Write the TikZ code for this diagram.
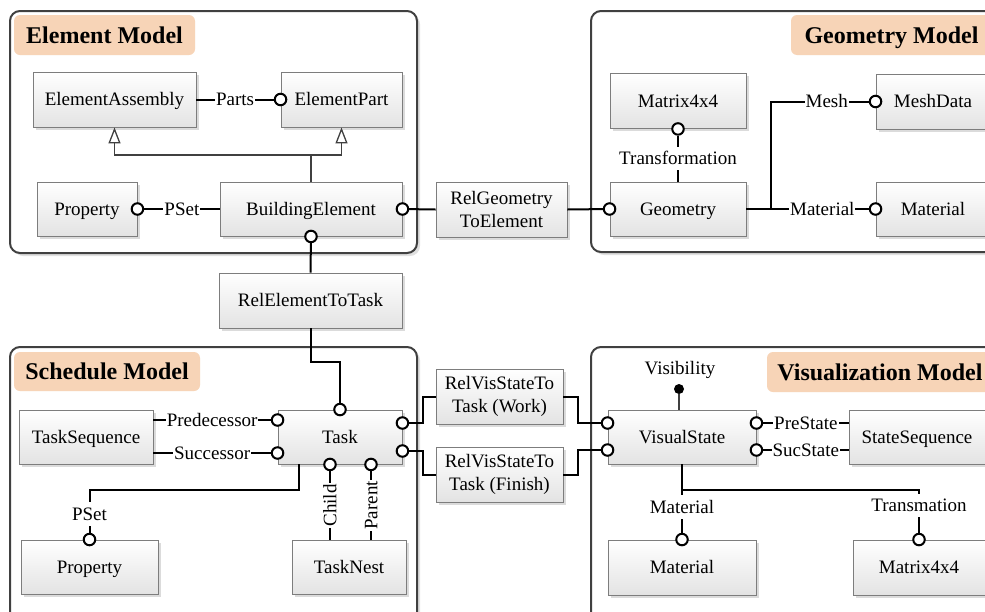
\documentclass[tikz,border=0pt]{standalone}
\usepackage{fontspec}
\setmainfont{Liberation Serif}
\usetikzlibrary{shadows,arrows.meta,calc}
\definecolor{peach}{RGB}{247,212,183}
\definecolor{boxline}{RGB}{125,125,125}
\definecolor{frameline}{RGB}{64,64,64}
\begin{document}
\begin{tikzpicture}[x=1pt,y=-1pt,
  txt/.style={font=\fontsize{19}{23}\selectfont},
  one/.style={text height=17pt,text depth=4.4pt},
  framebox/.style={draw=frameline,line width=2pt,rounded corners=10pt,fill=white},
  frameshadow/.style={fill=black!12,rounded corners=10pt},
  ttlbox/.style={fill=peach,rounded corners=6pt},
  ttltxt/.style={font=\fontsize{24}{28}\selectfont\bfseries,inner sep=0pt,text height=20pt,text depth=3.7pt},
  box/.style={draw=boxline,line width=0.9pt,top color=white,bottom color=black!11,
    drop shadow={shadow xshift=2.5pt,shadow yshift=-2.5pt,fill=black!14,opacity=1},
    txt,align=center,inner sep=0pt},
  port/.style={circle,draw=black,fill=white,line width=2pt,minimum size=11.5pt,inner sep=0pt},
  dotport/.style={circle,fill=black,minimum size=10pt,inner sep=0pt},
  conn/.style={draw=black,line width=2pt},
  thinconn/.style={draw=frameline,line width=1.2pt},
  inh/.style={draw=frameline,line width=1.3pt,-{Triangle[open,length=16pt,width=12pt,line width=1.3pt]}},
  lbl/.style={txt,one,fill=white,inner sep=1pt},
  plain/.style={txt,one,inner sep=0pt}
]
\useasboundingbox (0,0) rectangle (985,611);
\clip (0,0) rectangle (985,611);

% containers
\fill[frameshadow] (13,14) rectangle (420,256);
\draw[framebox] (10,11) rectangle (417,253);
\fill[frameshadow] (594,14) rectangle (1003,255);
\draw[framebox] (591,11) rectangle (1000,252);
\fill[frameshadow] (13,350) rectangle (420,640);
\draw[framebox] (10,347) rectangle (417,640);
\fill[frameshadow] (594,350) rectangle (1003,640);
\draw[framebox] (591,347) rectangle (1000,640);

% titles
\fill[ttlbox] (14,15) rectangle (195,55);
\node[ttltxt] (tEM) at (104.5,35) {Element Model};
\fill[ttlbox] (791,15) rectangle (1000,55);
\node[ttltxt] (tGM) at (891.5,35) {Geometry Model};
\fill[ttlbox] (14,352) rectangle (200,391);
\node[ttltxt] (tSM) at (107,371.5) {Schedule Model};
\fill[ttlbox] (767,352) rectangle (1000,392);
\node[ttltxt] (tVM) at (880,372) {Visualization Model};

% boxes
\node[box,one,minimum width=163pt,minimum height=55pt] (ea) at (114.5,99.5) {ElementAssembly};
\node[box,one,minimum width=121pt,minimum height=55pt] (ep) at (341.5,99.5) {ElementPart};
\node[box,one,minimum width=100pt,minimum height=54pt] (prop1) at (87,209) {Property};
\node[box,one,minimum width=182pt,minimum height=54pt] (be) at (311,209) {BuildingElement};
\node[box,minimum width=131pt,minimum height=55pt] (rge) at (501.5,209.5) {RelGeometry\\ToElement};
\node[box,one,minimum width=136pt,minimum height=55pt] (mat1) at (678,101) {Matrix4x4};
\node[box,one,minimum width=136pt,minimum height=54pt] (geo) at (678,209) {Geometry};
\node[box,one,minimum width=114pt,minimum height=55pt] (mesh) at (933,101.5) {MeshData};
\node[box,one,minimum width=114pt,minimum height=54pt] (matl1) at (933,209) {Material};
\node[box,one,minimum width=183pt,minimum height=55pt] (ret) at (310.5,300.5) {RelElementToTask};
\node[box,one,minimum width=134pt,minimum height=54pt] (ts) at (86,437) {TaskSequence};
\node[box,one,minimum width=124pt,minimum height=54pt] (task) at (340,437) {Task};
\node[box,one,minimum width=137pt,minimum height=54pt] (prop2) at (89.5,567) {Property};
\node[box,one,minimum width=114pt,minimum height=54pt] (tn) at (349,567) {TaskNest};
\node[box,minimum width=127pt,minimum height=55pt] (rw) at (499.5,396.5) {RelVisStateTo\\Task (Work)};
\node[box,minimum width=127pt,minimum height=55pt] (rf) at (499.5,474.5) {RelVisStateTo\\Task (Finish)};
\node[box,one,minimum width=148pt,minimum height=54pt] (vs) at (682,437) {VisualState};
\node[box,one,minimum width=136pt,minimum height=54pt] (ss) at (917,437) {StateSequence};
\node[box,one,minimum width=148pt,minimum height=55pt] (matl2) at (682,567.5) {Material};
\node[box,one,minimum width=132pt,minimum height=55pt] (mat2) at (919,567.5) {Matrix4x4};

% ports
\node[port] (pep) at (ep.west) {};
\node[port] (pprop1) at (prop1.east) {};
\node[port] (pbee) at (be.east) {};
\node[port] (pbes) at (be.south) {};
\node[port] (pgeo) at (geo.west) {};
\node[port] (pmat1) at (mat1.south) {};
\node[port] (pmesh) at (mesh.west) {};
\node[port] (pmatl1) at (matl1.west) {};
\node[port] (ptn) at (task.north) {};
\node[port] (ptw1) at (task.west |- 0,420) {};
\node[port] (ptw2) at (task.west |- 0,453) {};
\node[port] (pte1) at (task.east |- 0,423) {};
\node[port] (pte2) at (task.east |- 0,451) {};
\node[port] (ptc) at (task.south -| 330,0) {};
\node[port] (ptp) at (task.south -| 371,0) {};
\node[port] (pprop2) at (prop2.north) {};
\node[port] (pvw1) at (vs.west |- 0,423) {};
\node[port] (pvw2) at (vs.west |- 0,450) {};
\node[port] (pve1) at (vs.east |- 0,423) {};
\node[port] (pve2) at (vs.east |- 0,450) {};
\node[port] (pmatl2) at (matl2.north) {};
\node[port] (pmat2) at (mat2.north) {};
\node[dotport] (vdot) at (679,389) {};
\node[plain] (vis) at (680,368) {Visibility};

% element model
\draw[conn] (ea.east) -- node[lbl]{Parts} (pep);
\draw[inh] (be.north) -- (be.north |- 0,155) -| (ea.south);
\draw[inh] (be.north |- 0,155) -| (ep.south);
\draw[conn] (pprop1) -- node[lbl]{PSet} (be.west);
\draw[conn] (pbee) -- (rge.west);
\draw[conn] (rge.east) -- (pgeo);

% geometry model
\coordinate (gj) at (771,209);
\draw[conn] (pmat1) -- node[lbl]{Transformation} (geo.north);
\draw[conn] (geo.east) -- node[lbl,pos=0.62]{Material} (pmatl1);
\draw[conn] (gj) |- node[lbl,pos=0.785]{Mesh} (pmesh);

% element to task
\draw[conn] (pbes) -- (ret.north);
\draw[conn] (ret.south) -- (ret.south |- 0,362) -| (ptn);

% schedule model
\draw[conn] (ts.east |- ptw1) -- node[lbl]{Predecessor} (ptw1);
\draw[conn] (ts.east |- ptw2) -- node[lbl]{Successor} (ptw2);
\draw[conn] (ptc) -- node[lbl,rotate=90]{Child} (ptc |- tn.north);
\draw[conn] (ptp) -- node[lbl,rotate=90]{Parent} (ptp |- tn.north);
\draw[conn] ($(task.south west)+(21,0)$) -- ++(0,26) -| node[lbl,pos=0.78]{PSet} (pprop2);

% task to visual state
\draw[conn] (pte1) -- ++(21,0) |- (rw.west);
\draw[conn] (rw.east) -- ++(15,0) |- (pvw1);
\draw[conn] (pte2) -- ++(21,0) |- (rf.west);
\draw[conn] (rf.east) -- ++(15,0) |- (pvw2);

% visualization model
\draw[thinconn] (vdot) -- (vdot |- vs.north);
\draw[conn] (pve1) -- node[lbl]{PreState} (ss.west |- pve1);
\draw[conn] (pve2) -- node[lbl]{SucState} (ss.west |- pve2);
\draw[conn] (vs.south) -- node[lbl,pos=0.62]{Material} (pmatl2);
\draw[conn] (vs.south |- 0,490) -| node[lbl,pos=0.68]{Transmation} (pmat2);
\end{tikzpicture}
\end{document}
